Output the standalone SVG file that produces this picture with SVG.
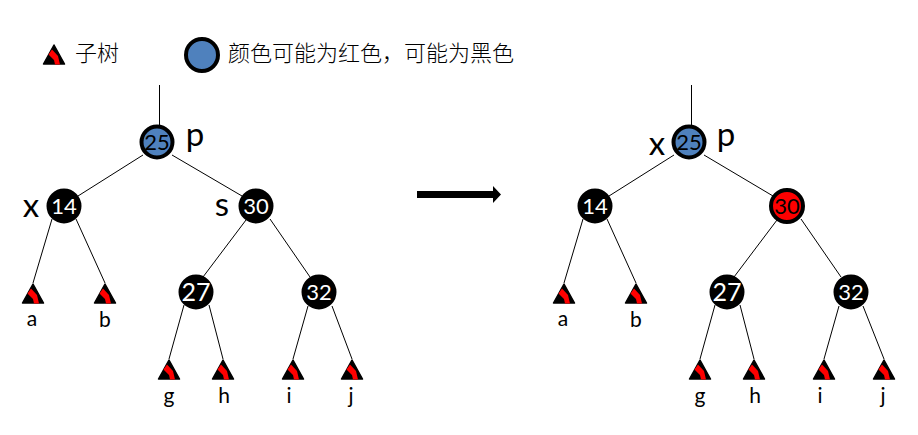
<svg xmlns="http://www.w3.org/2000/svg" width="918" height="435" viewBox="0 0 918 435">
<style>
text{font-family:"Lato","Open Sans",sans-serif;text-anchor:middle;fill:#000}
.num{font-size:22px}
.w{fill:#fff}
.lab{font-size:21px}
.big{font-size:33px}
.cjk{font-family:"Noto Sans CJK SC",sans-serif;font-size:22px;text-anchor:start;font-weight:300}
.edge{stroke:#000;stroke-width:1;fill:none}
.k{fill:#000;stroke:#000;stroke-width:3}
.b{fill:#4f81bd;stroke:#000;stroke-width:4}
.r{fill:#f00;stroke:#000;stroke-width:4}
</style>
<defs>
<g id="tree">
<path d="M0 1L10.500 20H-10.500Z" fill="#000" stroke="#000" stroke-width="1.500" stroke-linejoin="round"/>
<path d="M-5.500 10.500L-2 5.500L4 12L6 20.500H1L0 16Z" fill="#f00"/>
</g>
</defs>
<g id="legend">
<use href="#tree" x="54" y="44"/>
<text class="cjk" x="75" y="61">子树</text>
<circle cx="202" cy="55" r="16" fill="#4f81bd" stroke="#000" stroke-width="4"/>
<text class="cjk" x="228" y="61">颜色可能为红色，可能为黑色</text>
</g>
<g id="connectors">
<path class="edge" d="M159.500 85V126M143 155L78 196M172 155L242 196M52 219L33 283M76 219L105 283M246 220L203 277M270 219L310 277M184 305L169 359M209 305L223 359M308 306L293 359M332 306L352 359"/>
<path class="edge" d="M691.500 85V126M674 155L609 196M704 155L773 196M583 219L564 283M607 219L636 283M777 220L734 277M801 219L841 277M715 305L700 359M740 305L754 359M839 306L824 359M863 306L884 359"/>
<path d="M417 191H493V186L501 194.500L493 203V198H417Z" fill="#000"/>
</g>
<g id="L25"><circle class="b" cx="157" cy="142" r="15.500"/><text class="num" x="157" y="150">25</text></g>
<g id="L14"><circle class="k" cx="64" cy="206" r="16"/><text class="num w" x="64" y="214">14</text></g>
<g id="L30"><circle class="k" cx="256" cy="206" r="16"/><text class="num w" x="256" y="214">30</text></g>
<g id="L27"><circle class="k" cx="196" cy="292" r="16"/><text class="num w" x="196" y="301" style="font-size:25px">27</text></g>
<g id="L32"><circle class="k" cx="319" cy="292" r="16"/><text class="num w" x="319" y="300">32</text></g>
<g id="La"><use href="#tree" x="33" y="283"/><text class="lab" x="32" y="326">a</text></g>
<g id="Lb"><use href="#tree" x="105" y="283"/><text class="lab" x="105" y="327">b</text></g>
<g id="Lg"><use href="#tree" x="169" y="359"/><text class="lab" x="169" y="403">g</text></g>
<g id="Lh"><use href="#tree" x="223" y="359"/><text class="lab" x="224" y="403">h</text></g>
<g id="Li"><use href="#tree" x="293" y="359"/><text class="lab" x="289" y="403">i</text></g>
<g id="Lj"><use href="#tree" x="352" y="359"/><text class="lab" x="351" y="403">j</text></g>
<g id="Ltext">
<text class="big" x="195" y="146">p</text>
<text class="big" x="31" y="217">x</text>
<text class="big" x="222" y="216">s</text>
</g>
<g id="R25"><circle class="b" cx="689" cy="142" r="15.500"/><text class="num" x="689" y="150">25</text></g>
<g id="R14"><circle class="k" cx="595" cy="206" r="16"/><text class="num w" x="595" y="214">14</text></g>
<g id="R30"><circle class="r" cx="787" cy="206" r="16"/><text class="num" x="787" y="214">30</text></g>
<g id="R27"><circle class="k" cx="727" cy="292" r="16"/><text class="num w" x="727" y="301" style="font-size:25px">27</text></g>
<g id="R32"><circle class="k" cx="851" cy="292" r="16"/><text class="num w" x="851" y="300">32</text></g>
<g id="Ra"><use href="#tree" x="564" y="283"/><text class="lab" x="563" y="326">a</text></g>
<g id="Rb"><use href="#tree" x="636" y="283"/><text class="lab" x="636" y="327">b</text></g>
<g id="Rg"><use href="#tree" x="700" y="359"/><text class="lab" x="700" y="403">g</text></g>
<g id="Rh"><use href="#tree" x="754" y="359"/><text class="lab" x="755" y="403">h</text></g>
<g id="Ri"><use href="#tree" x="824" y="359"/><text class="lab" x="820" y="403">i</text></g>
<g id="Rj"><use href="#tree" x="884" y="359"/><text class="lab" x="883" y="403">j</text></g>
<g id="Rtext">
<text class="big" x="726" y="146">p</text>
<text class="big" x="657" y="155">x</text>
</g>
</svg>
